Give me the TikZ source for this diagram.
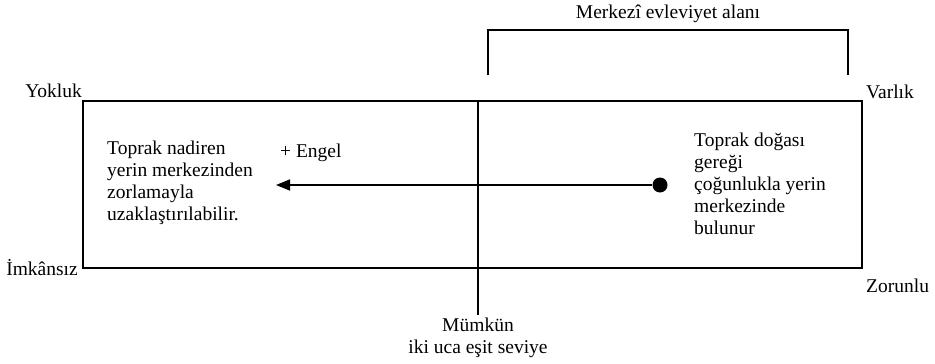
\documentclass[tikz,border=0pt]{standalone}
\usepackage{fontspec}
\setmainfont{Liberation Serif}
\usetikzlibrary{arrows.meta}
\tikzset{
  lbl/.style={inner sep=0pt, font=\fontsize{19.5}{22}\selectfont},
  blk/.style={inner sep=0pt, align=left, font=\fontsize{19.5}{22}\selectfont},
  frame/.style={draw, line width=2pt},
  thin/.style={draw, line width=1.5pt},
}
\begin{document}
\begin{tikzpicture}[x=1pt,y=-1pt]
\useasboundingbox (0,0) rectangle (935,364);
% main box
\node[frame, minimum width=779pt, minimum height=167pt, inner sep=0pt] (box) at (472.5,184.5) {};
% vertical divider
\coordinate (vtop) at (478,101);
\coordinate (vbot) at (478,315);
\draw[thin] (vtop) -- (vbot);
% bracket
\coordinate (bl) at (488,75);
\coordinate (br) at (848,75);
\draw[thin] (bl) -- (488,30) -- (848,30) -- (br);
\node[lbl, anchor=base] (head) at (668,19) {Merkezî evleviyet alanı};
% corner labels
\node[lbl, anchor=base east] (yok) at (82,97) {Yokluk};
\node[lbl, anchor=base west] (var) at (866,98) {Varlık};
\node[lbl, anchor=base east] (imk) at (78,275) {İmkânsız};
\node[lbl, anchor=base west] (zor) at (866,292) {Zorunlu};
% bottom label
\node[lbl, align=center, anchor=north] (mum) at (478,318) {Mümkün\\iki uca eşit seviye};
% texts
\node[blk, anchor=north west] (ltext) at (107,141) {Toprak nadiren\\yerin merkezinden\\zorlamayla\\uzaklaştırılabilir.};
\node[blk, anchor=north west] (rtext) at (694,133) {Toprak doğası\\gereği\\çoğunlukla yerin\\merkezinde\\bulunur};
\node[lbl, anchor=base west] (engel) at (280,157) {+ Engel};
% arrow
\node[circle, fill, inner sep=0pt, minimum size=15pt] (dot) at (660,185) {};
\coordinate (tip) at (276,185);
\draw[line width=1.5pt, -{Triangle[length=14pt,width=11pt]}] (dot) -- (tip);
\end{tikzpicture}
\end{document}
